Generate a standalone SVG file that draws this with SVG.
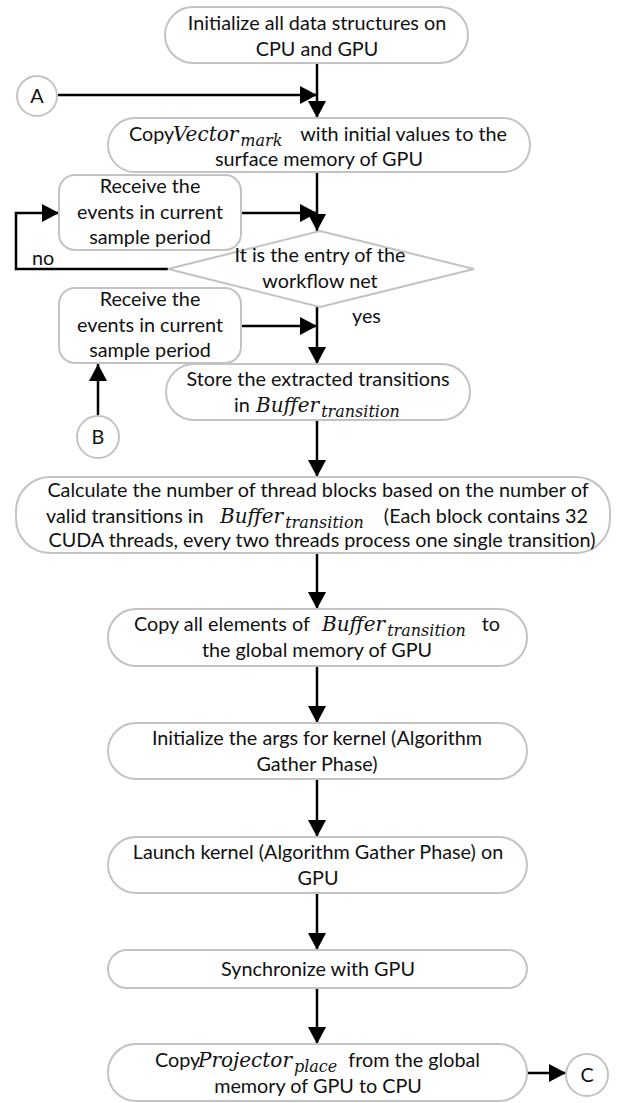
<svg xmlns="http://www.w3.org/2000/svg" width="623" height="1103" viewBox="0 0 623 1103">
<defs>
<style>
.box{fill:#fff;stroke:#c3c3c3;stroke-width:2}
.t{font-family:Lato,"Liberation Sans",sans-serif;font-size:19.8px;fill:#111}
.c{text-anchor:middle}
.m{font-family:"DejaVu Serif","Liberation Serif",serif;font-style:italic;font-size:20px;fill:#111}
.s{font-size:16px}
.ln{fill:none;stroke:#000;stroke-width:2.5}
</style>
<marker id="ah" markerUnits="userSpaceOnUse" markerWidth="18" markerHeight="18" refX="17" refY="9" orient="auto">
<path d="M0,0 L17,9 L0,18 z" fill="#000"/>
</marker>
</defs>
<rect width="623" height="1103" fill="#fff"/>

<g id="connectors">
<line class="ln" x1="317" y1="63" x2="317" y2="118" marker-end="url(#ah)"/>
<line class="ln" x1="58" y1="95" x2="317" y2="95" marker-end="url(#ah)"/>
<line class="ln" x1="317" y1="172" x2="317" y2="231" marker-end="url(#ah)"/>
<line class="ln" x1="241" y1="213" x2="317" y2="213" marker-end="url(#ah)"/>
<polyline class="ln" points="168,269 16,269 16,213 59,213" marker-end="url(#ah)"/>
<line class="ln" x1="317" y1="307" x2="317" y2="364" marker-end="url(#ah)"/>
<line class="ln" x1="241" y1="326" x2="317" y2="326" marker-end="url(#ah)"/>
<line class="ln" x1="98" y1="416" x2="98" y2="364" marker-end="url(#ah)"/>
<line class="ln" x1="317" y1="420" x2="317" y2="477" marker-end="url(#ah)"/>
<line class="ln" x1="317" y1="553" x2="317" y2="609" marker-end="url(#ah)"/>
<line class="ln" x1="317" y1="666" x2="317" y2="723" marker-end="url(#ah)"/>
<line class="ln" x1="317" y1="779" x2="317" y2="837" marker-end="url(#ah)"/>
<line class="ln" x1="317" y1="893" x2="317" y2="950" marker-end="url(#ah)"/>
<line class="ln" x1="317" y1="988" x2="317" y2="1044" marker-end="url(#ah)"/>
<line class="ln" x1="526" y1="1073" x2="566" y2="1073" marker-end="url(#ah)"/>
<text class="t" x="32" y="265">no</text>
<text class="t" x="352" y="323">yes</text>
</g>

<g id="init">
<rect class="box" x="165" y="7" width="303" height="56" rx="28"/>
<text class="t c" x="317" y="30">Initialize all data structures on</text>
<text class="t c" x="317" y="56">CPU and GPU</text>
</g>

<g id="connA">
<circle class="box" cx="37" cy="96" r="20"/>
<text class="t c" x="37" y="103">A</text>
</g>

<g id="copyVector">
<rect class="box" x="108" y="118" width="422" height="54" rx="27"/>
<text class="t" x="129" y="141">Copy</text>
<text class="m" x="173" y="141">Vector<tspan class="s" dx="2" dy="5">mark</tspan></text>
<text class="t" x="507" y="141" text-anchor="end">with initial values to the</text>
<text class="t c" x="319" y="166">surface memory of GPU</text>
</g>

<g id="receive1">
<rect class="box" x="59" y="175" width="182" height="75" rx="16"/>
<text class="t c" x="150" y="193">Receive the</text>
<text class="t c" x="150" y="219">events in current</text>
<text class="t c" x="150" y="244">sample period</text>
</g>

<g id="decision">
<polygon class="box" points="320,231 474,269 320,307 168,269"/>
<text class="t c" x="320" y="262">It is the entry of the</text>
<text class="t c" x="320" y="288">workflow net</text>
</g>

<g id="receive2">
<rect class="box" x="59" y="288" width="182" height="75" rx="16"/>
<text class="t c" x="150" y="306">Receive the</text>
<text class="t c" x="150" y="332">events in current</text>
<text class="t c" x="150" y="357">sample period</text>
</g>

<g id="connB">
<circle class="box" cx="98" cy="437" r="21"/>
<text class="t c" x="98" y="444">B</text>
</g>

<g id="store">
<rect class="box" x="166" y="364" width="304" height="56" rx="28"/>
<text class="t c" x="318" y="386">Store the extracted transitions</text>
<text class="t" x="234" y="412">in</text>
<text class="m" x="256" y="412">Buffer<tspan class="s" dx="2" dy="5">transition</tspan></text>
</g>

<g id="calculate">
<rect class="box" x="16" y="477" width="594" height="76" rx="34"/>
<text class="t c" x="318" y="497">Calculate the number of thread blocks based on the number of</text>
<text class="t" x="46" y="523">valid transitions in</text>
<text class="m" x="220" y="523">Buffer<tspan class="s" dx="2" dy="5">transition</tspan></text>
<text class="t" x="588" y="523" text-anchor="end">(Each block contains 32</text>
<text class="t c" x="322" y="547">CUDA threads, every two threads process one single transition)</text>
</g>

<g id="copyBuffer">
<rect class="box" x="108" y="609" width="419" height="57" rx="28"/>
<text class="t" x="134" y="631">Copy all elements of</text>
<text class="m" x="322" y="631">Buffer<tspan class="s" dx="2" dy="5">transition</tspan></text>
<text class="t" x="500" y="631" text-anchor="end">to</text>
<text class="t c" x="317" y="657">the global memory of GPU</text>
</g>

<g id="initArgs">
<rect class="box" x="108" y="723" width="419" height="56" rx="28"/>
<text class="t c" x="317" y="745">Initialize the args for kernel (Algorithm</text>
<text class="t c" x="317" y="771">Gather Phase)</text>
</g>

<g id="launch">
<rect class="box" x="108" y="837" width="419" height="56" rx="28"/>
<text class="t c" x="318" y="859">Launch kernel (Algorithm Gather Phase) on</text>
<text class="t c" x="318" y="885">GPU</text>
</g>

<g id="sync">
<rect class="box" x="108" y="950" width="419" height="38" rx="19"/>
<text class="t c" x="318" y="976">Synchronize with GPU</text>
</g>

<g id="copyProjector">
<rect class="box" x="108" y="1044" width="419" height="57" rx="28"/>
<text class="t" x="155" y="1067">Copy</text>
<text class="m" x="198" y="1067">Projector<tspan class="s" dx="2" dy="5">place</tspan></text>
<text class="t" x="480" y="1067" text-anchor="end">from the global</text>
<text class="t c" x="318" y="1093">memory of GPU to CPU</text>
</g>

<g id="connC">
<circle class="box" cx="587" cy="1075" r="21"/>
<text class="t c" x="587" y="1082">C</text>
</g>
</svg>
